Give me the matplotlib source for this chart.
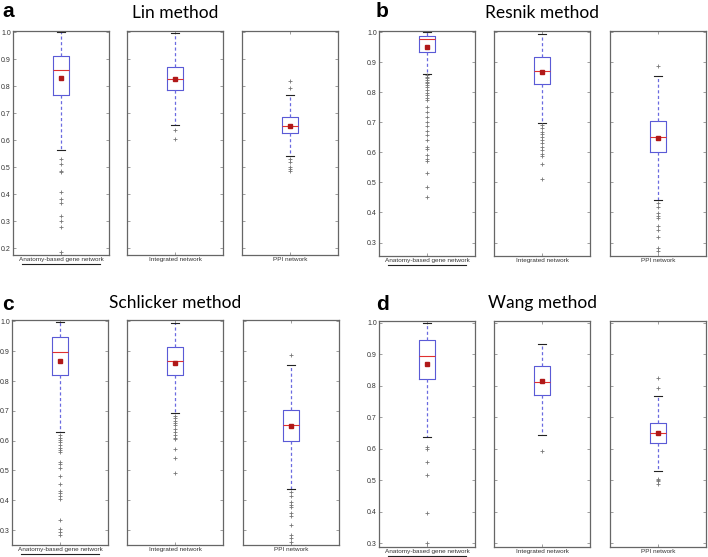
import numpy as np
import matplotlib.pyplot as plt

networks = ["Anatomy-based gene network", "Integrated network", "PPI network"]
methods = ["Lin method", "Resnik method", "Schlicker method", "Wang method"]
letters = ["a", "b", "c", "d"]

# Lin
lin_q1 = [0.769, 0.786, 0.626]
lin_med = [0.859, 0.826, 0.653]
lin_q3 = [0.914, 0.870, 0.686]
lin_mean = [0.830, 0.827, 0.654]
lin_lo = [0.564, 0.658, 0.541]
lin_hi = [1.000, 0.996, 0.767]
lin_out = [[0.531, 0.512, 0.488, 0.481, 0.410, 0.383, 0.368, 0.321, 0.302, 0.278, 0.185],
           [0.640, 0.605],
           [0.821, 0.793, 0.531, 0.519, 0.500, 0.494, 0.485]]

# Resnik
res_q1 = [0.936, 0.828, 0.600]
res_med = [0.977, 0.872, 0.652]
res_q3 = [0.989, 0.917, 0.706]
res_mean = [0.950, 0.868, 0.648]
res_lo = [0.860, 0.699, 0.441]
res_hi = [1.000, 0.994, 0.856]
res_out = [[0.858, 0.852, 0.847, 0.841, 0.836, 0.830, 0.824, 0.817, 0.808, 0.799, 0.791, 0.783,
            0.774, 0.752, 0.736, 0.719, 0.702, 0.688, 0.672, 0.658, 0.643, 0.619, 0.613, 0.591,
            0.577, 0.571, 0.532, 0.486, 0.452],
           [0.691, 0.680, 0.669, 0.661, 0.652, 0.641, 0.630, 0.619, 0.608, 0.594, 0.589, 0.561, 0.513],
           [0.888, 0.430, 0.419, 0.399, 0.388, 0.380, 0.354, 0.343, 0.317, 0.282, 0.272]]

# Schlicker
sch_q1 = [0.820, 0.822, 0.599]
sch_med = [0.896, 0.867, 0.652]
sch_q3 = [0.948, 0.913, 0.703]
sch_mean = [0.868, 0.861, 0.648]
sch_lo = [0.629, 0.693, 0.438]
sch_hi = [0.998, 0.996, 0.855]
sch_out = [[0.619, 0.610, 0.602, 0.595, 0.586, 0.574, 0.569, 0.563, 0.530, 0.521, 0.508, 0.480,
            0.455, 0.430, 0.423, 0.415, 0.404, 0.334, 0.303, 0.294, 0.283],
           [0.684, 0.675, 0.666, 0.658, 0.651, 0.639, 0.630, 0.619, 0.610, 0.606, 0.572, 0.541, 0.493],
           [0.886, 0.429, 0.415, 0.395, 0.384, 0.378, 0.356, 0.348, 0.317, 0.283, 0.272, 0.261]]

# Wang
wan_q1 = [0.821, 0.770, 0.618]
wan_med = [0.894, 0.811, 0.651]
wan_q3 = [0.944, 0.861, 0.680]
wan_mean = [0.870, 0.815, 0.650]
wan_lo = [0.638, 0.643, 0.530]
wan_hi = [1.000, 0.932, 0.767]
wan_out = [[0.606, 0.598, 0.559, 0.517, 0.396, 0.300],
           [0.594],
           [0.823, 0.794, 0.505, 0.500, 0.496, 0.487]]

ylims = [(0.175, 1.005), (0.255, 1.005), (0.25, 1.005), (0.288, 1.005)]
yticks = [np.arange(0.2, 1.01, 0.1), np.arange(0.3, 1.01, 0.1),
          np.arange(0.3, 1.01, 0.1), np.arange(0.3, 1.01, 0.1)]

all_stats = [
    (lin_q1, lin_med, lin_q3, lin_mean, lin_lo, lin_hi, lin_out),
    (res_q1, res_med, res_q3, res_mean, res_lo, res_hi, res_out),
    (sch_q1, sch_med, sch_q3, sch_mean, sch_lo, sch_hi, sch_out),
    (wan_q1, wan_med, wan_q3, wan_mean, wan_lo, wan_hi, wan_out),
]

W, H = 708, 557
fig = plt.figure(figsize=(W / 100, H / 100), dpi=100)

# pixel layout of each panel: x lefts of the three axes, top, bottom, axes width
xlefts = [[13, 127, 242], [379, 494, 610], [12, 127, 243], [379, 494, 610]]
ytops = [31, 31, 320, 321]
ybots = [255, 256, 545, 547]
aw = 96
letter_pos = [(2, 17), (376, 17), (2, 310), (376, 310)]
title_y = [18, 18, 308, 308]

boxc = "#5a5ad6"
for p in range(4):
    q1, med, q3, mean, lo, hi, out = all_stats[p]
    for i in range(3):
        x0 = xlefts[p][i]
        ax = fig.add_axes([x0 / W, 1 - ybots[p] / H, aw / W, (ybots[p] - ytops[p]) / H])
        st = [dict(q1=q1[i], med=med[i], q3=q3[i], mean=mean[i], whislo=lo[i],
                   whishi=hi[i], fliers=out[i], label=networks[i])]
        ax.bxp(st, positions=[1], widths=0.16, capwidths=0.09, showmeans=True,
               boxprops=dict(color=boxc, lw=0.8),
               whiskerprops=dict(color="#6a6ae0", lw=0.9, linestyle=(0, (2.5, 2))),
               capprops=dict(color="#222222", lw=0.8),
               medianprops=dict(color="#e03030", lw=0.8),
               meanprops=dict(marker="s", markerfacecolor="#b01818", markeredgecolor="#b01818",
                              markersize=3),
               flierprops=dict(marker="+", markeredgecolor="#777777", markersize=3,
                               markeredgewidth=0.6))
        ax.set_xlim(0.5, 1.5)
        ax.set_ylim(*ylims[p])
        ax.set_yticks(yticks[p])
        ax.tick_params(direction="in", length=2, width=0.5, colors="#777777",
                       labelcolor="#333333", labelsize=5, pad=1.5,
                       top=True, right=True)
        ax.set_xticks([1])
        ax.set_xticklabels([networks[i]], fontsize=4.6, family="Liberation Sans")
        if i == 0:
            ax.set_yticklabels(["%.1f" % v for v in yticks[p]], family="Liberation Sans")
            ax.plot([0.09, 0.91], [-0.042, -0.042], transform=ax.transAxes,
                    clip_on=False, color="#222222", lw=0.8)
        else:
            ax.set_yticklabels([])
        for s in ax.spines.values():
            s.set_color("#666666")
            s.set_linewidth(0.9)
        if i == 1:
            cx = (x0 + aw / 2) / W
            fig.text(cx, 1 - title_y[p] / H, methods[p], ha="center", va="baseline",
                     fontsize=12.5, family="Lato")
    lx, ly = letter_pos[p]
    fig.text(lx / W, 1 - ly / H, letters[p], ha="left", va="baseline",
             fontsize=15, fontweight="bold", family="Liberation Sans")

fig.savefig("out.png", dpi=100)
